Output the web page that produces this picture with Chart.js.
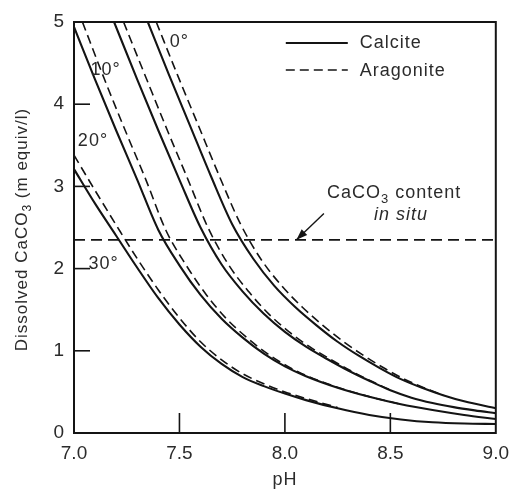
<!DOCTYPE html>
<html>
<head>
<meta charset="utf-8">
<script src="https://cdn.jsdelivr.net/npm/chart.js@4/dist/chart.umd.min.js"></script>
<style>
  html, body { margin: 0; padding: 0; background: #fff; }
  #wrap { width: 518px; height: 490px; }
</style>
</head>
<body>
<div id="wrap"><canvas id="c" width="518" height="490"></canvas></div>
<script>
// Solubility of CaCO3 against pH, calcite (solid) and aragonite (dashed)
const temperatures = ['0°', '10°', '20°', '30°'];

const ph_cal0  = [7.35, 7.45, 7.55, 7.65, 7.75, 7.85, 7.95, 8.05, 8.15, 8.25, 8.35, 8.45, 8.55, 8.65, 8.75, 8.85, 9.00];
const val_cal0 = [5.00, 4.36, 3.74, 3.12, 2.54, 2.12, 1.79, 1.53, 1.31, 1.11, 0.94, 0.79, 0.655, 0.55, 0.46, 0.385, 0.30];
const ph_ara0  = [7.39, 7.49, 7.59, 7.69, 7.79, 7.885, 7.985, 8.083, 8.18, 8.278, 8.375, 8.47, 8.567, 8.66, 8.75];
const val_ara0 = [5.00, 4.36, 3.74, 3.12, 2.54, 2.12, 1.79, 1.53, 1.31, 1.11, 0.94, 0.79, 0.655, 0.55, 0.46];

const ph_cal10  = [7.19, 7.30, 7.40, 7.50, 7.60, 7.70, 7.80, 7.90, 8.00, 8.10, 8.20, 8.30, 8.40, 8.50, 8.60, 8.70, 8.80, 8.90, 9.00];
const val_cal10 = [5.00, 4.30, 3.68, 3.08, 2.50, 2.05, 1.72, 1.45, 1.23, 1.05, 0.90, 0.76, 0.635, 0.52, 0.43, 0.365, 0.315, 0.275, 0.24];
const ph_ara10  = [7.235, 7.345, 7.443, 7.541, 7.635, 7.732, 7.828, 7.923, 8.02, 8.117, 8.214, 8.31, 8.406, 8.503];
const val_ara10 = [5.00, 4.30, 3.68, 3.08, 2.50, 2.05, 1.72, 1.45, 1.23, 1.05, 0.90, 0.76, 0.635, 0.52];

const ph_cal20  = [7.00, 7.10, 7.20, 7.30, 7.40, 7.50, 7.60, 7.70, 7.80, 7.90, 8.00, 8.10, 8.25, 8.40, 8.55, 8.70, 8.85, 9.00];
const val_cal20 = [4.94, 4.30, 3.68, 3.08, 2.47, 2.04, 1.68, 1.39, 1.16, 0.965, 0.81, 0.69, 0.55, 0.44, 0.35, 0.28, 0.22, 0.17];
const ph_ara20  = [7.04, 7.145, 7.243, 7.341, 7.435, 7.532, 7.628, 7.723, 7.82, 7.917, 8.014, 8.11, 8.256, 8.403, 8.55];
const val_ara20 = [5.00, 4.30, 3.68, 3.08, 2.47, 2.04, 1.68, 1.39, 1.16, 0.965, 0.81, 0.69, 0.55, 0.44, 0.35];

const ph_cal30  = [7.00, 7.10, 7.20, 7.30, 7.40, 7.50, 7.60, 7.70, 7.80, 7.90, 8.00, 8.10, 8.25, 8.40, 8.55, 8.70, 8.85, 9.00];
const val_cal30 = [3.21, 2.79, 2.40, 2.01, 1.64, 1.32, 1.05, 0.84, 0.68, 0.57, 0.48, 0.40, 0.30, 0.22, 0.165, 0.13, 0.115, 0.11];
const ph_ara30  = [7.00, 7.10, 7.20, 7.30, 7.40, 7.50, 7.60, 7.70, 7.80, 7.90, 8.00, 8.10, 8.25];
const val_ara30 = [3.38, 2.95, 2.53, 2.12, 1.74, 1.40, 1.11, 0.89, 0.72, 0.60, 0.50, 0.42, 0.31];

// CaCO3 content measured in situ
const inSituValue = 2.35;
const inSituRange = [7.0, 9.0];

// axis ticks
const xTickValues = [7.0, 7.5, 8.0, 8.5, 9.0];
const yTickValues = [0, 1, 2, 3, 4, 5];

// temperature labels: [text, pH, value]
const tempLabels = [
  ['0°', 7.50, 4.76],
  ['10°', 7.15, 4.42],
  ['20°', 7.09, 3.55],
  ['30°', 7.14, 2.06]
];

const INK = '#141414';
const TEXT = '#2b2b2b';
const FONT = '"Liberation Sans", Arial, Helvetica, sans-serif';

const pts = (xs, ys) => xs.map((x, i) => ({ x: x, y: ys[i] }));

function curve(label, xs, ys, dashed) {
  return {
    label: label,
    data: pts(xs, ys),
    borderColor: INK,
    borderWidth: dashed ? 1.6 : 2.1,
    borderDash: dashed ? [9, 5] : [],
    pointRadius: 0,
    fill: false,
    cubicInterpolationMode: 'monotone'
  };
}

const datasets = [
  curve('Calcite ' + temperatures[0], ph_cal0, val_cal0, false),
  curve('Aragonite ' + temperatures[0], ph_ara0, val_ara0, true),
  curve('Calcite ' + temperatures[1], ph_cal10, val_cal10, false),
  curve('Aragonite ' + temperatures[1], ph_ara10, val_ara10, true),
  curve('Calcite ' + temperatures[2], ph_cal20, val_cal20, false),
  curve('Aragonite ' + temperatures[2], ph_ara20, val_ara20, true),
  curve('Calcite ' + temperatures[3], ph_cal30, val_cal30, false),
  curve('Aragonite ' + temperatures[3], ph_ara30, val_ara30, true),
  {
    label: 'in situ',
    data: inSituRange.map(p => ({ x: p, y: inSituValue })),
    borderColor: INK,
    borderWidth: 1.6,
    borderDash: [11, 6],
    pointRadius: 0,
    fill: false
  }
];

// text with an optional subscript run
function richText(ctx, parts, x, y, align, size) {
  const big = size + 'px ' + FONT;
  const small = Math.round(size * 0.7) + 'px ' + FONT;
  let w = 0;
  parts.forEach(p => { ctx.font = p.sub ? small : big; w += ctx.measureText(p.t).width; });
  let cx = align === 'center' ? x - w / 2 : (align === 'right' ? x - w : x);
  ctx.textAlign = 'left';
  parts.forEach(p => {
    ctx.font = p.sub ? small : big;
    ctx.fillText(p.t, cx, p.sub ? y + size * 0.35 : y);
    cx += ctx.measureText(p.t).width;
  });
}

const decor = {
  id: 'decor',
  afterDraw(chart) {
    const { ctx, chartArea: a, scales: { x, y } } = chart;
    ctx.save();
    ctx.strokeStyle = INK;
    ctx.fillStyle = TEXT;
    ctx.setLineDash([]);

    // frame
    ctx.lineWidth = 2;
    ctx.strokeRect(a.left, a.top, a.right - a.left, a.bottom - a.top);

    // inward tick marks
    ctx.lineWidth = 1.6;
    yTickValues.slice(1, -1).forEach(v => {
      const py = y.getPixelForValue(v);
      ctx.beginPath(); ctx.moveTo(a.left, py); ctx.lineTo(a.left + 16, py); ctx.stroke();
    });
    xTickValues.slice(1, -1).forEach(v => {
      const px = x.getPixelForValue(v);
      ctx.beginPath(); ctx.moveTo(px, a.bottom); ctx.lineTo(px, a.bottom - 20); ctx.stroke();
    });

    if ('letterSpacing' in ctx) ctx.letterSpacing = '1px';
    ctx.textBaseline = 'middle';

    // temperature labels
    ctx.font = '18px ' + FONT;
    ctx.textAlign = 'center';
    tempLabels.forEach(([t, p, v]) => {
      ctx.fillText(t, x.getPixelForValue(p), y.getPixelForValue(v));
    });

    // legend
    const lx0 = a.right - 210, lx1 = a.right - 148, tx = a.right - 136;
    const ly1 = a.top + 21, ly2 = a.top + 48;
    ctx.lineWidth = 2.1;
    ctx.beginPath(); ctx.moveTo(lx0, ly1); ctx.lineTo(lx1, ly1); ctx.stroke();
    ctx.lineWidth = 1.6;
    ctx.setLineDash([9, 5]);
    ctx.beginPath(); ctx.moveTo(lx0, ly2); ctx.lineTo(lx1, ly2); ctx.stroke();
    ctx.setLineDash([]);
    ctx.font = '18px ' + FONT;
    ctx.textAlign = 'left';
    ctx.fillText('Calcite', tx, ly1);
    ctx.fillText('Aragonite', tx, ly2 + 1);

    // in situ note and arrow
    const nx = x.getPixelForValue(8.2), ny = y.getPixelForValue(2.92);
    richText(ctx, [{ t: 'CaCO' }, { t: '3', sub: true }, { t: ' content' }], nx, ny, 'left', 18);
    ctx.font = 'italic 18px ' + FONT;
    ctx.textAlign = 'center';
    ctx.fillText('in situ', x.getPixelForValue(8.55), y.getPixelForValue(2.65));

    const tipX = x.getPixelForValue(8.055), tipY = y.getPixelForValue(inSituValue);
    const tailX = x.getPixelForValue(8.185), tailY = y.getPixelForValue(2.67);
    const ang = Math.atan2(tipY - tailY, tipX - tailX);
    ctx.lineWidth = 1.4;
    ctx.beginPath(); ctx.moveTo(tailX, tailY); ctx.lineTo(tipX, tipY); ctx.stroke();
    ctx.fillStyle = INK;
    ctx.beginPath();
    ctx.moveTo(tipX, tipY);
    ctx.lineTo(tipX - 11 * Math.cos(ang) + 4 * Math.sin(ang), tipY - 11 * Math.sin(ang) - 4 * Math.cos(ang));
    ctx.lineTo(tipX - 11 * Math.cos(ang) - 4 * Math.sin(ang), tipY - 11 * Math.sin(ang) + 4 * Math.cos(ang));
    ctx.closePath(); ctx.fill();
    ctx.fillStyle = TEXT;

    // axis titles
    ctx.font = '18px ' + FONT;
    ctx.textAlign = 'center';
    ctx.fillText('pH', (a.left + a.right) / 2, 480);
    ctx.save();
    ctx.translate(22, (a.top + a.bottom) / 2 + 2);
    ctx.rotate(-Math.PI / 2);
    richText(ctx, [{ t: 'Dissolved CaCO' }, { t: '3', sub: true }, { t: ' (m equiv/l)' }], 0, 0, 'center', 17);
    ctx.restore();

    ctx.restore();
  }
};

Chart.defaults.font.family = FONT;

new Chart(document.getElementById('c'), {
  type: 'line',
  data: { datasets: datasets },
  options: {
    responsive: false,
    animation: false,
    devicePixelRatio: 1,
    layout: { padding: { left: 0, top: 22, right: 20, bottom: 0 } },
    plugins: { legend: { display: false }, tooltip: { enabled: false } },
    scales: {
      x: {
        type: 'linear',
        min: 7, max: 9,
        afterBuildTicks: s => { s.ticks = xTickValues.map(v => ({ value: v })); },
        afterFit: s => { s.height = 57; },
        grid: { display: false, drawTicks: false },
        border: { display: true, color: INK, width: 2 },
        ticks: {
          padding: 9,
          color: TEXT,
          font: { size: 19 },
          maxRotation: 0,
          callback: v => Number(v).toFixed(1)
        }
      },
      y: {
        type: 'linear',
        min: 0, max: 5,
        afterBuildTicks: s => { s.ticks = yTickValues.map(v => ({ value: v })); },
        afterFit: s => { s.width = 74; },
        grid: { display: false, drawTicks: false },
        border: { display: true, color: INK, width: 2 },
        ticks: {
          padding: 10,
          color: TEXT,
          font: { size: 19 },
          callback: v => String(v)
        }
      }
    }
  },
  plugins: [decor]
});
</script>
</body>
</html>
